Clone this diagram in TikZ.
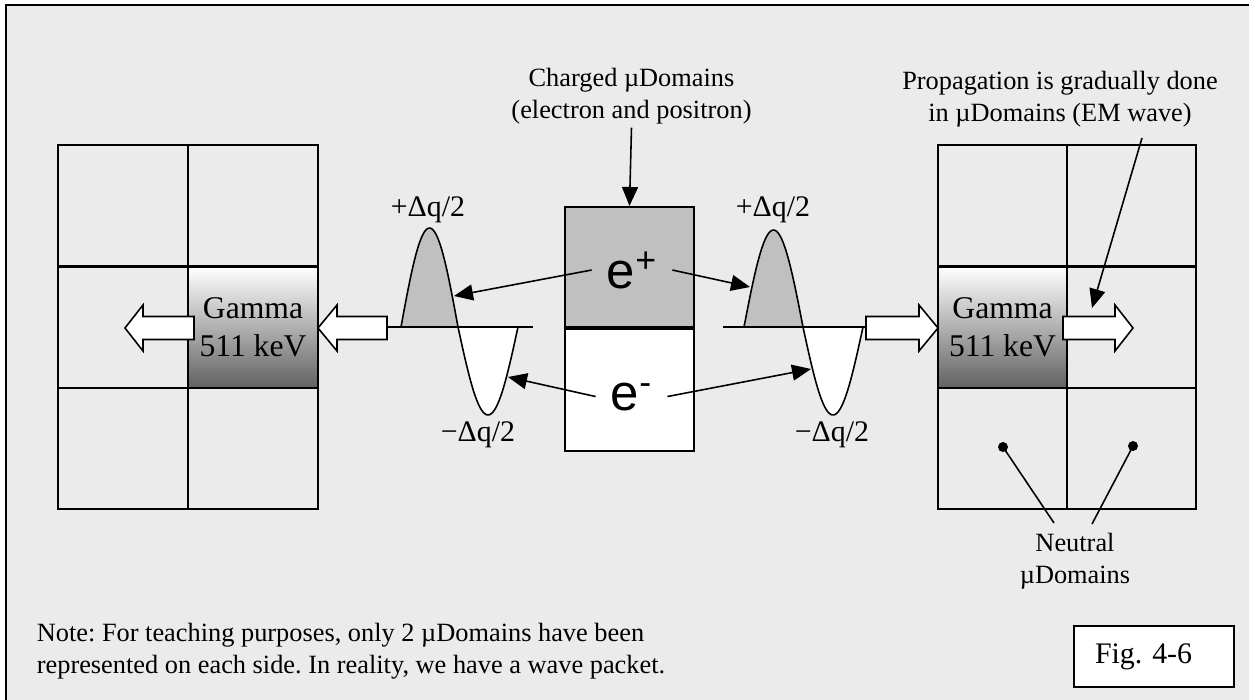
\documentclass[tikz,border=0pt]{standalone}
\usepackage{fontspec}
\setmainfont{Liberation Serif}
\newfontfamily\arialfont{Liberation Sans}
\usetikzlibrary{arrows.meta,positioning,calc}
\definecolor{panel}{HTML}{EBEBEB}
\definecolor{lobe}{HTML}{C0C0C0}
\frenchspacing

\begin{document}
\begin{tikzpicture}[
    x=0.02cm, y=-0.02cm,
    cell/.style={draw, line width=1.2pt, minimum width=2.6cm, minimum height=2.42cm, inner sep=0pt},
    rcell/.style={cell, minimum width=2.58cm},
    gammacell/.style={top color=white, bottom color=black!62, align=center, font=\fontsize{18}{21.5}\selectfont},
    charge/.style={draw, line width=1.2pt, minimum width=2.58cm, inner sep=0pt},
    lbl/.style={align=center, font=\fontsize{15}{18}\selectfont, inner sep=2pt},
    dq/.style={font=\fontsize{17}{20}\selectfont, inner sep=0pt},
    elec/.style={font=\arialfont\fontsize{29}{32}\selectfont, inner xsep=0.3cm, inner ysep=0pt},
    fat/.style={draw, fill=white, line width=0.9pt},
    arr/.style={-{Triangle[length=3.8mm, width=3.2mm]}, line width=0.9pt},
    wave/.style={line width=0.9pt},
    dot/.style={circle, fill=black, minimum size=0.2cm, inner sep=0pt}
  ]
    \useasboundingbox (0,0) rectangle (1249,700);
    \draw[line width=1.3pt, fill=panel] (6,5) rectangle (1262,712);

    % left group of domains
    \node[cell] (l11) at (123,205.5) {};
    \node[cell] (l12) at (253,205.5) {};
    \node[cell] (l21) at (123,327.5) {};
    \node[cell, gammacell] (lg) at (253,327.5) {Gamma\\511 keV};
    \node[cell] (l31) at (123,448.5) {};
    \node[cell] (l32) at (253,448.5) {};

    % right group of domains
    \node[rcell] (r11) at (1002.5,205.5) {};
    \node[rcell] (r12) at (1131.5,205.5) {};
    \node[rcell, gammacell] (rg) at (1002.5,327.5) {Gamma\\511 keV};
    \node[rcell] (r22) at (1131.5,327.5) {};
    \node[rcell] (r31) at (1002.5,448.5) {};
    \node[rcell] (r32) at (1131.5,448.5) {};

    % charged domains
    \node[charge, fill=lobe, minimum height=2.4cm] (pos) at (629.5,267) {};
    \node[charge, fill=white, minimum height=2.44cm, below=0pt of pos] (neg) {};
    \node[elec, anchor=base] (ep) at (632,288) {e\textsuperscript{+}};
    \node[elec, anchor=base] (en) at (631.5,410) {e\textsuperscript{-}};

    % left wave
    \fill[lobe] plot[domain=0:180, samples=40] ({401+57*\x/180},{327-99*sin(\x)}) -- cycle;
    \fill[white] plot[domain=0:180, samples=40] ({458+60*\x/180},{327+88*sin(\x)}) -- cycle;
    \draw[wave] (387,327) -- (533,327);
    \draw[wave] plot[domain=0:180, samples=40] ({401+57*\x/180},{327-99*sin(\x)});
    \draw[wave] plot[domain=0:180, samples=40] ({458+60*\x/180},{327+88*sin(\x)});

    % right wave
    \fill[lobe] plot[domain=0:180, samples=40] ({744+59*\x/180},{327-97*sin(\x)}) -- cycle;
    \fill[white] plot[domain=0:180, samples=40] ({803+60*\x/180},{327+88*sin(\x)}) -- cycle;
    \draw[wave] (723,327) -- (866,327);
    \draw[wave] plot[domain=0:180, samples=40] ({744+59*\x/180},{327-97*sin(\x)});
    \draw[wave] plot[domain=0:180, samples=40] ({803+60*\x/180},{327+88*sin(\x)});

    % gamma block arrows
    \draw[fat] (125,328) -- (143,305) -- (143,316.5) -- (194,316.5) -- (194,339.5) -- (143,339.5) -- (143,351) -- cycle;
    \draw[fat] (318,328) -- (337,305) -- (337,316.5) -- (387,316.5) -- (387,339.5) -- (337,339.5) -- (337,351) -- cycle;
    \draw[fat] (938,328) -- (919,305) -- (919,316.5) -- (866,316.5) -- (866,339.5) -- (919,339.5) -- (919,351) -- cycle;
    \draw[fat] (1133,328) -- (1115,305) -- (1115,316.5) -- (1063,316.5) -- (1063,339.5) -- (1115,339.5) -- (1115,351) -- cycle;

    % charge labels
    \node[dq] (lpl) at (428,210) {+Δq/2};
    \node[dq] (rpl) at (773,210) {+Δq/2};
    \node[dq] (lmi) at (478,435) {−Δq/2};
    \node[dq] (rmi) at (832,435) {−Δq/2};

    \coordinate (lpos) at (454,296);
    \coordinate (rpos) at (750,287);
    \coordinate (lneg) at (508,377);
    \coordinate (rneg) at (811,369);
    \draw[arr] (ep.west) -- (lpos);
    \draw[arr] (ep.east) -- (rpos);
    \draw[arr] (en.west) -- (lneg);
    \draw[arr] (en.east) -- (rneg);

    % top labels
    \node[lbl] (chg) at (631.5,96) {Charged µDomains\\(electron and positron)};
    \draw[arr] (chg.south) -- (pos.north);
    \node[lbl] (prop) at (1060,99) {Propagation is gradually done\\in µDomains (EM wave)};
    \coordinate (propfoot) at (1142,138);
    \coordinate (proptip) at (1092,308);
    \draw[arr] (propfoot) -- (proptip);

    % neutral domains
    \node[dot] (d1) at (1003,447) {};
    \node[dot] (d2) at (1133,446) {};
    \node[lbl] (neu) at (1075,561) {Neutral\\µDomains};
    \coordinate (n1) at (1054,523);
    \coordinate (n2) at (1092,524);
    \draw[wave] (d1.center) -- (n1);
    \draw[wave] (d2.center) -- (n2);

    % note and figure tag
    \node[lbl, align=left, anchor=west] (note) at (33,651) {Note: For teaching purposes, only 2 µDomains have been\\represented on each side. In reality, we have a wave packet.};
    \node[draw, fill=white, line width=1.1pt, minimum width=3.2cm, minimum height=1.22cm, inner xsep=0.42cm, text width=2.36cm, align=left, font=\fontsize{17}{20}\selectfont] (fig) at (1154,656.5) {Fig. 4-6};
\end{tikzpicture}
\end{document}
